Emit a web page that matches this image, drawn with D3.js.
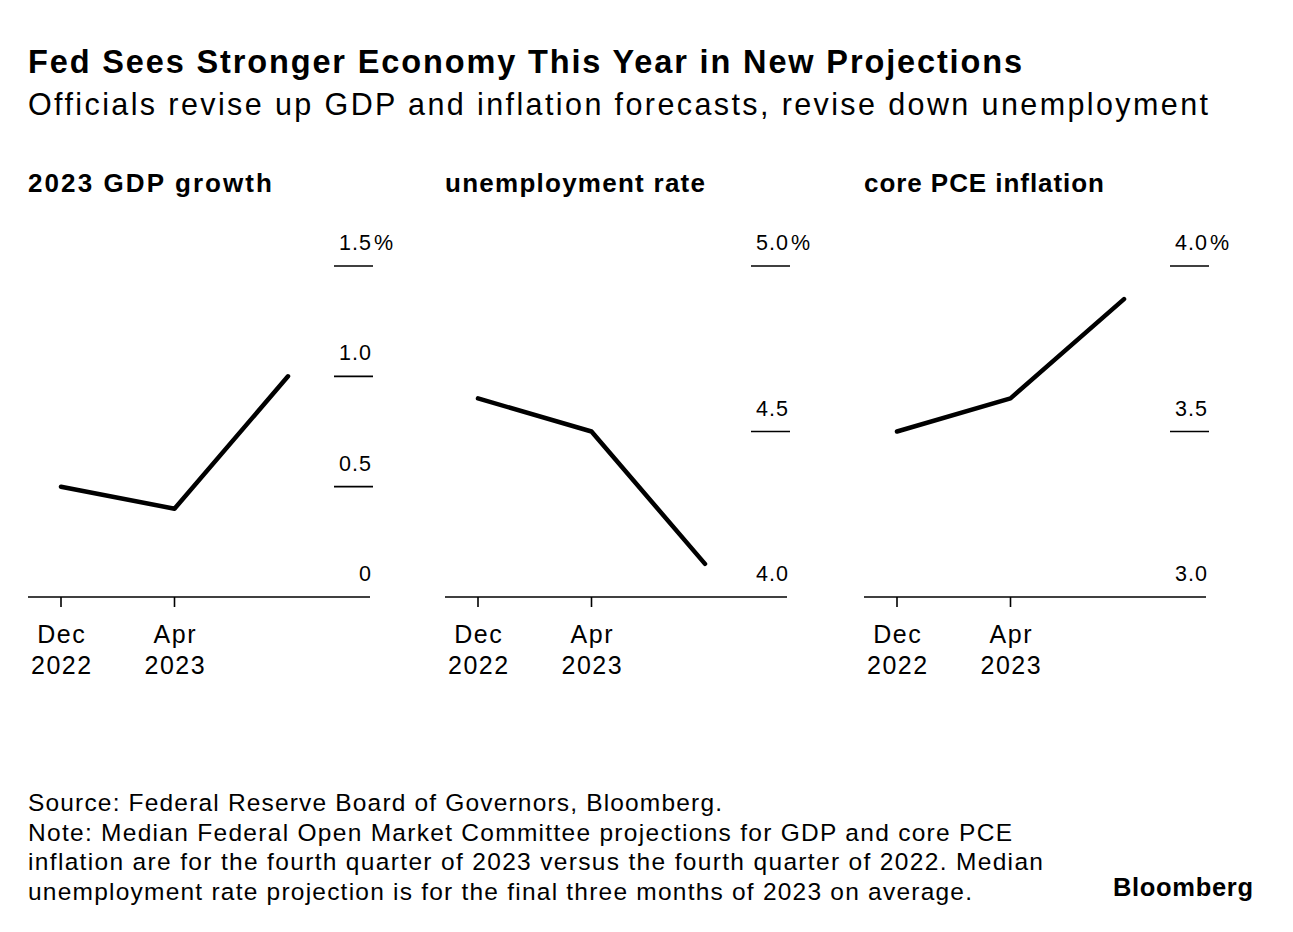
<!DOCTYPE html>
<html>
<head>
<meta charset="utf-8">
<script src="https://cdn.jsdelivr.net/npm/d3@7"></script>
<style>
  body { margin: 0; background: #fff; }
  text { font-family: "Liberation Sans", Arial, sans-serif; fill: #000; }
</style>
</head>
<body>
<svg width="1293" height="932"></svg>
<script>
// данные
const panelTitles = ["2023 GDP growth", "unemployment rate", "core PCE inflation"];
const dates = ["Dec 2022", "Apr 2023", "Jun 2023"];
const dateLabels = [["Dec", "2022"], ["Apr", "2023"], null];   // у третьей точки подписи нет
const gdp = [0.5, 0.4, 1.0];
const unemployment = [4.6, 4.5, 4.1];
const corePce = [3.5, 3.6, 3.9];
const gdpTicks = [0, 0.5, 1.0, 1.5];
const unemploymentTicks = [4.0, 4.5, 5.0];
const corePceTicks = [3.0, 3.5, 4.0];
const gdpTickLabels = ["0", "0.5", "1.0", "1.5"];
const unemploymentTickLabels = ["4.0", "4.5", "5.0"];
const corePceTickLabels = ["3.0", "3.5", "4.0"];

const panels = [
  { title: panelTitles[0], values: gdp, ticks: gdpTicks, labels: gdpTickLabels },
  { title: panelTitles[1], values: unemployment, ticks: unemploymentTicks, labels: unemploymentTickLabels },
  { title: panelTitles[2], values: corePce, ticks: corePceTicks, labels: corePceTickLabels }
];

const svg = d3.select("svg");

// шрифт Bloomberg шире, поэтому ширину строк подгоняем через textLength
function fitText(sel, width) {
  return sel.attr("textLength", width).attr("lengthAdjust", "spacing");
}

// заголовок и подзаголовок
fitText(svg.append("text").attr("x", 28).attr("y", 73)
  .style("font-size", "32.5px").style("font-weight", "bold")
  .text("Fed Sees Stronger Economy This Year in New Projections"), 994);
fitText(svg.append("text").attr("x", 28).attr("y", 115)
  .style("font-size", "30.5px")
  .text("Officials revise up GDP and inflation forecasts, revise down unemployment"), 1180);

const panelLeft = [28, 445, 864];
const titleWidths = [244, 260, 240];
const panelW = 342;
const yTop = 266, yBottom = 597;

panels.forEach((p, i) => {
  const g = svg.append("g").attr("transform", `translate(${panelLeft[i]},0)`);

  fitText(g.append("text").attr("x", 0).attr("y", 192)
    .style("font-size", "26px").style("font-weight", "bold")
    .text(p.title), titleWidths[i]);

  const x = d3.scalePoint().domain(dates).range([33, 260]);
  const y = d3.scaleLinear().domain([p.ticks[0], p.ticks[p.ticks.length - 1]]).range([yBottom, yTop]);

  // короткие штрихи, над ними подписи значений
  p.ticks.forEach((t, k) => {
    if (k > 0) {
      g.append("line")
        .attr("x1", 306).attr("x2", 345)
        .attr("y1", y(t)).attr("y2", y(t))
        .attr("stroke", "#000").attr("stroke-width", 1.6);
    }
    g.append("text")
      .attr("x", 344).attr("y", y(t) - 16)
      .attr("text-anchor", "end")
      .style("font-size", "21.5px").style("letter-spacing", "1px")
      .text(p.labels[k]);
    if (k === p.ticks.length - 1) {
      g.append("text").attr("x", 346).attr("y", y(t) - 16)
        .style("font-size", "21.5px").text("%");
    }
  });

  // ось x
  g.append("line").attr("x1", 0).attr("x2", panelW)
    .attr("y1", yBottom).attr("y2", yBottom)
    .attr("stroke", "#000").attr("stroke-width", 1.6);

  dates.forEach((d, k) => {
    if (!dateLabels[k]) return;
    g.append("line").attr("x1", x(d)).attr("x2", x(d))
      .attr("y1", yBottom).attr("y2", yBottom + 10)
      .attr("stroke", "#000").attr("stroke-width", 1.6);
    dateLabels[k].forEach((s, j) => {
      g.append("text").attr("x", x(d) + 0.8).attr("y", 643 + j * 31)
        .attr("text-anchor", "middle")
        .style("font-size", "25px").style("letter-spacing", "1.5px")
        .text(s);
    });
  });

  const line = d3.line()
    .x((d, k) => x(dates[k]))
    .y(d => y(d));

  g.append("path")
    .attr("d", line(p.values))
    .attr("fill", "none")
    .attr("stroke", "#000")
    .attr("stroke-width", 4.5)
    .attr("stroke-linecap", "round")
    .attr("stroke-linejoin", "round");
});

// источник и примечание
const footer = [
  "Source: Federal Reserve Board of Governors, Bloomberg.",
  "Note: Median Federal Open Market Committee projections for GDP and core PCE",
  "inflation are for the fourth quarter of 2023 versus the fourth quarter of 2022. Median",
  "unemployment rate projection is for the final three months of 2023 on average."
];
const footerWidths = [694, 984, 1015, 944];
footer.forEach((s, k) => {
  fitText(svg.append("text").attr("x", 28).attr("y", 811 + k * 29.7)
    .style("font-size", "24.5px").text(s), footerWidths[k]);
});

fitText(svg.append("text").attr("x", 1113).attr("y", 896)
  .style("font-size", "25.5px").style("font-weight", "bold")
  .text("Bloomberg"), 140);
</script>
</body>
</html>
